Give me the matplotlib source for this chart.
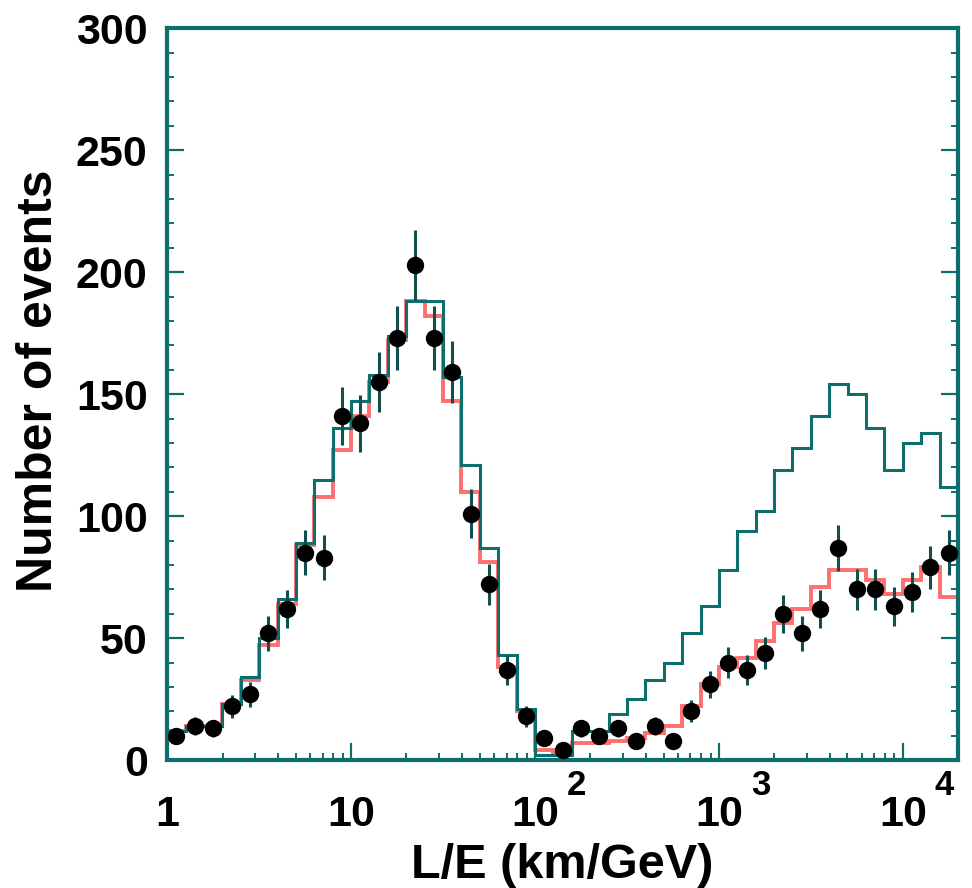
import matplotlib.pyplot as plt
import numpy as np

# log10(L/E) binning: 43 bins of 0.1 decade from 1 to 10^4.3
bin_edges = np.logspace(0, 4.3, 44)
bin_centers = np.sqrt(bin_edges[:-1] * bin_edges[1:])

# data points (number of events per bin)
data_counts = [10, 14, 13, 22, 27, 52, 62, 85, 83, 141, 138, 155, 173, 203, 173,
               159, 101, 72, 37, 18, 9, 4, 13, 10, 13, 8, 14, 8, 20, 31, 40, 37,
               44, 60, 52, 62, 87, 70, 70, 63, 69, 79, 85]

# expectation without oscillation (teal histogram)
no_osc = [12, 14, 14, 23, 34, 50, 66, 89, 115, 136, 147, 158, 174, 188, 188,
          157, 121, 87, 43, 21, 2, 2, 12, 12, 19, 25, 33, 40, 52, 63, 78, 94,
          102, 119, 128, 141, 154, 150, 136, 119, 130, 134, 112]

# best-fit oscillation expectation (red histogram)
osc_fit = [12, 14, 14, 23, 33, 47, 64, 88, 108, 127, 141, 155, 172, 188, 182,
           147, 110, 81, 38, 20, 4, 3, 7, 7, 8, 9, 11, 14, 22, 31, 38, 42, 49,
           56, 62, 71, 78, 78, 74, 68, 74, 79, 67]

x_ticks = [1, 10, 100, 1000, 10000]
x_ticklabels = ['1', '10', '10', '10', '10']
x_exponents = {100: '2', 1000: '3', 10000: '4'}

teal = '#0c6f6d'
red = '#ff6f6f'

plt.rcParams['font.family'] = ['Liberation Sans', 'DejaVu Sans']
plt.rcParams['font.weight'] = 'bold'

fig = plt.figure(figsize=(9.72, 8.88), dpi=100)
ax = fig.add_axes([0.172, 0.144, 0.8136, 0.8243])

ax.stairs(osc_fit, bin_edges, baseline=None, color=red, lw=2.8, zorder=2)
ax.stairs(no_osc, bin_edges, baseline=None, color=teal, lw=2.2, zorder=3)

counts = np.array(data_counts, dtype=float)
ax.errorbar(bin_centers, counts, yerr=np.sqrt(counts), fmt='o', color='black',
            ms=11.5, ecolor='#124f4f', elinewidth=2.2, capsize=0, zorder=4)

ax.set_xscale('log')
ax.set_xlim(1, 10 ** 4.3)
ax.set_ylim(0, 300)

ax.set_yticks(np.arange(0, 301, 50))
ax.set_yticks(np.arange(0, 301, 10), minor=True)
ax.set_xticks(x_ticks)
ax.set_xticklabels(x_ticklabels)
ax.set_xticks([m * 10 ** d for d in range(5) for m in range(2, 10)
               if m * 10 ** d < 10 ** 4.3], minor=True)
ax.set_xticklabels([], minor=True)

ax.tick_params(axis='both', which='major', direction='in', length=12,
               width=1.6, color=teal, labelsize=31)
ax.tick_params(axis='both', which='minor', direction='in', length=5,
               width=1.4, color=teal)
ax.tick_params(axis='y', which='both', right=True, pad=14)
ax.tick_params(axis='x', which='major', pad=25)
for lab in ax.get_xticklabels() + ax.get_yticklabels():
    lab.set_fontweight('bold')

for t, e in x_exponents.items():
    ax.annotate(e, xy=(t, 0), xycoords=('data', 'axes fraction'),
                xytext=(30, -18), textcoords='offset points',
                ha='center', va='center', fontsize=25, fontweight='bold')

for s in ax.spines.values():
    s.set_color(teal)
    s.set_linewidth(3)

ax.set_xlabel('L/E (km/GeV)', fontsize=35, fontweight='bold')
ax.xaxis.set_label_coords(0.5, -0.113)
ax.set_ylabel('Number of events', fontsize=36, fontweight='bold')
ax.yaxis.set_label_coords(-0.133, 0.518)

fig.savefig('out.png', dpi=100)
